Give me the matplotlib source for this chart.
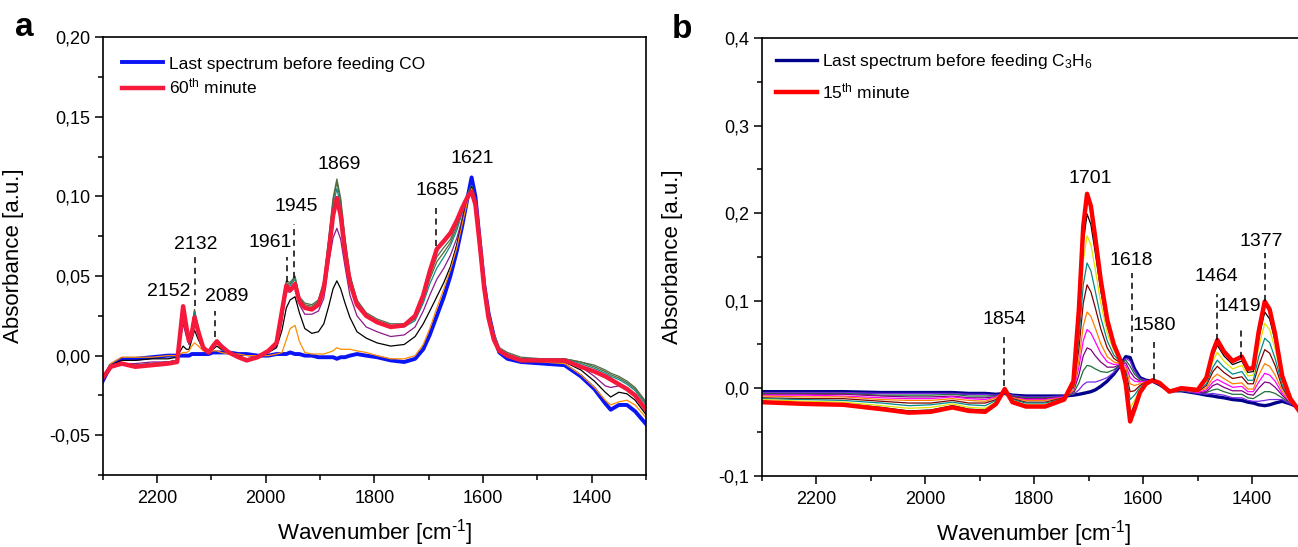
import matplotlib
matplotlib.use("Agg")
import matplotlib.pyplot as plt
from matplotlib.ticker import MultipleLocator

plt.rcParams['font.family'] = ['Liberation Sans', 'DejaVu Sans']
plt.rcParams['mathtext.fontset'] = 'custom'
plt.rcParams['mathtext.rm'] = 'Liberation Sans'
plt.rcParams['mathtext.it'] = 'Liberation Sans'
plt.rcParams['mathtext.bf'] = 'Liberation Sans:bold'

# ---------------- panel a : CO adsorption ----------------
wn_a = [2300, 2285, 2265, 2240, 2210, 2180, 2163, 2157, 2152, 2146,
        2141, 2136, 2131, 2124, 2115, 2105, 2097, 2090, 2082, 2068,
        2050, 2035, 2015, 1995, 1980, 1970, 1962, 1955, 1946, 1938,
        1928, 1915, 1903, 1893, 1884, 1876, 1869, 1862, 1854, 1845,
        1832, 1815, 1795, 1770, 1745, 1725, 1710, 1698, 1685, 1672,
        1660, 1648, 1638, 1628, 1621, 1614, 1606, 1598, 1590, 1580,
        1570, 1555, 1530, 1490, 1450, 1420, 1395, 1375, 1365, 1350,
        1335, 1320, 1300]

before_co = [-0.016, -0.006, -0.002, -0.002, -0.001, 0.000, 0.000, 0.000, 0.000, 0.000,
             0.000, 0.001, 0.001, 0.001, 0.001, 0.001, 0.002, 0.002, 0.002, 0.002,
             0.001, 0.001, 0.000, 0.000, 0.001, 0.001, 0.001, 0.002, 0.001, 0.001,
             0.000, 0.000, -0.001, -0.001, -0.001, -0.001, -0.002, -0.001, -0.001, 0.000,
             0.001, 0.000, -0.001, -0.003, -0.004, -0.002, 0.004, 0.013, 0.025, 0.037,
             0.050, 0.066, 0.082, 0.100, 0.112, 0.100, 0.072, 0.045, 0.027, 0.012,
             0.002, -0.002, -0.004, -0.005, -0.006, -0.013, -0.021, -0.030, -0.034, -0.031,
             -0.031, -0.035, -0.043]

co_orange = [-0.014, -0.005, -0.001, -0.001, -0.001, 0.000, 0.000, 0.001, 0.002, 0.002,
             0.003, 0.006, 0.008, 0.006, 0.003, 0.002, 0.003, 0.003, 0.002, 0.001,
             0.001, 0.000, 0.000, 0.000, 0.001, 0.002, 0.010, 0.017, 0.019, 0.009,
             0.002, 0.001, 0.001, 0.001, 0.002, 0.003, 0.005, 0.004, 0.004, 0.004,
             0.003, 0.002, 0.000, -0.002, -0.002, 0.000, 0.007, 0.017, 0.030, 0.042,
             0.054, 0.068, 0.083, 0.098, 0.105, 0.097, 0.072, 0.046, 0.027, 0.012,
             0.003, -0.001, -0.003, -0.004, -0.005, -0.012, -0.020, -0.028, -0.031, -0.029,
             -0.028, -0.031, -0.039]

co_black = [-0.014, -0.006, -0.003, -0.003, -0.002, -0.002, -0.001, 0.003, 0.006, 0.004,
            0.004, 0.010, 0.016, 0.010, 0.004, 0.002, 0.004, 0.006, 0.004, 0.002,
            0.000, -0.002, -0.001, 0.002, 0.005, 0.016, 0.030, 0.035, 0.037, 0.027,
            0.017, 0.014, 0.015, 0.020, 0.031, 0.042, 0.047, 0.042, 0.033, 0.024,
            0.015, 0.011, 0.008, 0.006, 0.007, 0.012, 0.020, 0.028, 0.037, 0.046,
            0.056, 0.070, 0.084, 0.099, 0.106, 0.098, 0.073, 0.046, 0.027, 0.012,
            0.003, -0.001, -0.003, -0.004, -0.004, -0.009, -0.016, -0.023, -0.026, -0.023,
            -0.024, -0.028, -0.037]

co_purple = [-0.015, -0.007, -0.005, -0.005, -0.004, -0.004, -0.003, 0.010, 0.020, 0.012,
             0.007, 0.014, 0.022, 0.013, 0.004, 0.002, 0.005, 0.008, 0.005, 0.002,
             -0.001, -0.003, -0.001, 0.002, 0.006, 0.022, 0.040, 0.040, 0.043, 0.032,
             0.026, 0.026, 0.028, 0.036, 0.058, 0.074, 0.080, 0.073, 0.056, 0.038,
             0.025, 0.018, 0.015, 0.012, 0.013, 0.018, 0.028, 0.038, 0.048, 0.055,
             0.063, 0.074, 0.086, 0.099, 0.105, 0.097, 0.072, 0.045, 0.026, 0.011,
             0.003, -0.001, -0.003, -0.003, -0.003, -0.007, -0.013, -0.019, -0.020, -0.019,
             -0.021, -0.025, -0.034]

co_teal = [-0.015, -0.007, -0.005, -0.006, -0.005, -0.004, -0.003, 0.014, 0.028, 0.017,
           0.009, 0.016, 0.027, 0.016, 0.005, 0.002, 0.006, 0.009, 0.006, 0.002,
           -0.001, -0.003, -0.001, 0.003, 0.008, 0.027, 0.045, 0.044, 0.048, 0.035,
           0.031, 0.030, 0.033, 0.044, 0.069, 0.094, 0.105, 0.094, 0.069, 0.048,
           0.033, 0.025, 0.021, 0.018, 0.018, 0.022, 0.033, 0.045, 0.055, 0.062,
           0.069, 0.079, 0.090, 0.101, 0.106, 0.098, 0.074, 0.047, 0.028, 0.013,
           0.004, 0.001, -0.002, -0.002, -0.002, -0.005, -0.008, -0.011, -0.013, -0.015,
           -0.018, -0.022, -0.031]

co_olive = [-0.015, -0.007, -0.005, -0.006, -0.005, -0.004, -0.003, 0.015, 0.030, 0.018,
            0.010, 0.017, 0.028, 0.017, 0.006, 0.003, 0.007, 0.009, 0.006, 0.002,
            -0.001, -0.003, -0.001, 0.003, 0.008, 0.028, 0.046, 0.045, 0.049, 0.036,
            0.032, 0.031, 0.034, 0.046, 0.072, 0.097, 0.109, 0.097, 0.072, 0.050,
            0.034, 0.026, 0.022, 0.019, 0.019, 0.023, 0.035, 0.048, 0.059, 0.065,
            0.071, 0.081, 0.091, 0.101, 0.106, 0.098, 0.074, 0.047, 0.028, 0.013,
            0.004, 0.001, -0.002, -0.002, -0.002, -0.004, -0.007, -0.010, -0.012, -0.014,
            -0.017, -0.021, -0.030]

co_gray = [-0.014, -0.007, -0.005, -0.006, -0.005, -0.004, -0.003, 0.015, 0.030, 0.019,
           0.010, 0.018, 0.029, 0.017, 0.006, 0.003, 0.007, 0.009, 0.006, 0.002,
           -0.001, -0.003, -0.001, 0.003, 0.008, 0.029, 0.047, 0.046, 0.050, 0.037,
           0.033, 0.032, 0.035, 0.047, 0.074, 0.099, 0.111, 0.099, 0.074, 0.051,
           0.035, 0.027, 0.023, 0.020, 0.020, 0.024, 0.037, 0.050, 0.062, 0.068,
           0.073, 0.083, 0.092, 0.102, 0.107, 0.099, 0.075, 0.048, 0.029, 0.014,
           0.005, 0.002, -0.001, -0.002, -0.002, -0.004, -0.006, -0.009, -0.011, -0.013,
           -0.016, -0.020, -0.029]

co_60min = [-0.014, -0.007, -0.005, -0.007, -0.006, -0.005, -0.004, 0.015, 0.031, 0.018,
            0.009, 0.014, 0.024, 0.015, 0.005, 0.002, 0.006, 0.009, 0.006, 0.002,
            -0.001, -0.003, -0.001, 0.003, 0.008, 0.028, 0.044, 0.041, 0.045, 0.034,
            0.030, 0.029, 0.032, 0.042, 0.065, 0.088, 0.099, 0.088, 0.065, 0.046,
            0.032, 0.025, 0.021, 0.018, 0.019, 0.025, 0.038, 0.053, 0.067, 0.072,
            0.077, 0.085, 0.093, 0.100, 0.103, 0.095, 0.070, 0.043, 0.024, 0.010,
            0.003, 0.000, -0.003, -0.003, -0.003, -0.007, -0.010, -0.013, -0.015, -0.018,
            -0.021, -0.025, -0.034]

mid_a = [co_gray, co_olive, co_teal, co_purple, co_black, co_orange]
mid_a_colors = ['#4f6b4f', '#556b2f', '#138a8a', '#8b1a8b', 'black', '#ff8c00']

# peak label, text position (wn, abs), dashed line (wn, y0, y1) or None
peaks_a = [('2152', 2178, 0.040, None),
           ('2132', 2128, 0.070, (2131, 0.031, 0.063)),
           ('2089', 2072, 0.037, (2093, 0.012, 0.028)),
           ('1961', 1992, 0.071, (1960, 0.046, 0.062)),
           ('1945', 1943, 0.094, (1947, 0.049, 0.083)),
           ('1869', 1865, 0.120, None),
           ('1685', 1685, 0.104, (1686, 0.069, 0.093)),
           ('1621', 1619, 0.124, None)]

yticks_a = [-0.05, 0.0, 0.05, 0.10, 0.15, 0.20]
ytick_labels_a = ['-0,05', '0,00', '0,05', '0,10', '0,15', '0,20']

# ---------------- panel b : C3H6 adsorption ----------------
wn_b = [2300, 2220, 2150, 2080, 2030, 1990, 1950, 1920, 1890, 1870,
        1854, 1840, 1815, 1780, 1745, 1728, 1718, 1710, 1703, 1696,
        1688, 1678, 1666, 1654, 1642, 1632, 1624, 1616, 1606, 1595,
        1583, 1570, 1552, 1530, 1500, 1484, 1472, 1464, 1452, 1436,
        1419, 1408, 1398, 1388, 1377, 1368, 1358, 1345, 1330, 1315]

before_c3h6 = [-0.004, -0.004, -0.004, -0.005, -0.005, -0.005, -0.005, -0.006, -0.006, -0.007,
               -0.006, -0.008, -0.009, -0.009, -0.009, -0.008, -0.007, -0.006, -0.005, -0.004,
               -0.002, 0.002, 0.008, 0.016, 0.026, 0.036, 0.035, 0.022, 0.012, 0.009,
               0.008, 0.004, -0.003, -0.003, -0.006, -0.008, -0.009, -0.010, -0.011, -0.013,
               -0.014, -0.016, -0.017, -0.019, -0.020, -0.019, -0.017, -0.015, -0.018, -0.022]

c3_1 = [-0.005, -0.005, -0.005, -0.006, -0.006, -0.006, -0.006, -0.007, -0.007, -0.008,
        -0.006, -0.008, -0.010, -0.010, -0.009, -0.007, -0.002, 0.004, 0.007, 0.007,
        0.007, 0.009, 0.012, 0.018, 0.026, 0.034, 0.031, 0.020, 0.011, 0.009,
        0.008, 0.004, -0.003, -0.003, -0.006, -0.007, -0.006, -0.007, -0.008, -0.011,
        -0.011, -0.014, -0.015, -0.015, -0.014, -0.013, -0.013, -0.013, -0.018, -0.022]

c3_2 = [-0.006, -0.006, -0.006, -0.008, -0.008, -0.008, -0.007, -0.009, -0.009, -0.009,
        -0.005, -0.009, -0.011, -0.011, -0.010, -0.006, 0.006, 0.020, 0.026, 0.025,
        0.022, 0.019, 0.018, 0.021, 0.027, 0.032, 0.025, 0.016, 0.010, 0.008,
        0.008, 0.004, -0.003, -0.003, -0.005, -0.005, -0.002, -0.001, -0.004, -0.007,
        -0.007, -0.011, -0.012, -0.008, -0.004, -0.004, -0.006, -0.011, -0.017, -0.022]

c3_3 = [-0.007, -0.007, -0.007, -0.009, -0.010, -0.010, -0.009, -0.011, -0.011, -0.010,
        -0.005, -0.010, -0.012, -0.012, -0.010, -0.004, 0.015, 0.037, 0.046, 0.044,
        0.037, 0.030, 0.024, 0.024, 0.027, 0.029, 0.019, 0.012, 0.008, 0.008,
        0.008, 0.004, -0.003, -0.002, -0.005, -0.004, 0.003, 0.005, 0.001, -0.003,
        -0.003, -0.007, -0.008, 0.000, 0.007, 0.006, 0.001, -0.008, -0.017, -0.023]

c3_4 = [-0.008, -0.008, -0.009, -0.011, -0.012, -0.012, -0.010, -0.012, -0.013, -0.010,
        -0.004, -0.011, -0.013, -0.013, -0.010, -0.003, 0.024, 0.054, 0.067, 0.063,
        0.053, 0.040, 0.030, 0.027, 0.028, 0.026, 0.012, 0.008, 0.007, 0.008,
        0.008, 0.005, -0.003, -0.002, -0.005, -0.002, 0.007, 0.010, 0.006, 0.001,
        0.002, -0.004, -0.004, 0.007, 0.017, 0.015, 0.008, -0.006, -0.016, -0.023]

c3_5 = [-0.009, -0.010, -0.010, -0.013, -0.014, -0.014, -0.012, -0.014, -0.015, -0.011,
        -0.004, -0.011, -0.014, -0.014, -0.011, -0.002, 0.032, 0.071, 0.087, 0.082,
        0.069, 0.051, 0.036, 0.030, 0.028, 0.023, 0.005, 0.003, 0.005, 0.007,
        0.008, 0.005, -0.003, -0.002, -0.004, 0.000, 0.012, 0.016, 0.011, 0.005,
        0.006, -0.001, -0.001, 0.015, 0.028, 0.025, 0.015, -0.003, -0.016, -0.023]

c3_6 = [-0.011, -0.012, -0.012, -0.015, -0.017, -0.017, -0.014, -0.017, -0.017, -0.013,
        -0.003, -0.012, -0.016, -0.016, -0.011, 0.001, 0.045, 0.097, 0.118, 0.110,
        0.092, 0.068, 0.046, 0.034, 0.029, 0.019, -0.004, -0.003, 0.003, 0.007,
        0.009, 0.005, -0.004, -0.001, -0.004, 0.003, 0.019, 0.025, 0.018, 0.011,
        0.013, 0.005, 0.005, 0.026, 0.044, 0.040, 0.026, 0.001, -0.015, -0.024]

c3_7 = [-0.012, -0.013, -0.014, -0.017, -0.020, -0.019, -0.016, -0.019, -0.020, -0.014,
        -0.003, -0.013, -0.017, -0.017, -0.012, 0.002, 0.056, 0.118, 0.143, 0.134,
        0.111, 0.081, 0.054, 0.038, 0.030, 0.016, -0.013, -0.008, 0.001, 0.006,
        0.009, 0.005, -0.004, -0.001, -0.003, 0.005, 0.024, 0.032, 0.024, 0.016,
        0.019, 0.009, 0.009, 0.036, 0.057, 0.052, 0.034, 0.004, -0.014, -0.024]

c3_8 = [-0.013, -0.015, -0.016, -0.020, -0.023, -0.022, -0.018, -0.022, -0.023, -0.016,
        -0.002, -0.014, -0.019, -0.019, -0.012, 0.005, 0.070, 0.145, 0.174, 0.164,
        0.136, 0.098, 0.063, 0.043, 0.031, 0.012, -0.023, -0.014, -0.001, 0.006,
        0.009, 0.006, -0.004, -0.001, -0.003, 0.008, 0.031, 0.041, 0.031, 0.022,
        0.026, 0.014, 0.015, 0.047, 0.074, 0.067, 0.045, 0.008, -0.013, -0.024]

c3_9 = [-0.015, -0.017, -0.018, -0.022, -0.026, -0.025, -0.020, -0.024, -0.025, -0.017,
        -0.002, -0.015, -0.020, -0.020, -0.013, 0.006, 0.080, 0.166, 0.199, 0.187,
        0.155, 0.112, 0.071, 0.047, 0.031, 0.008, -0.031, -0.019, -0.003, 0.005,
        0.009, 0.006, -0.004, 0.000, -0.002, 0.010, 0.037, 0.049, 0.037, 0.027,
        0.031, 0.018, 0.019, 0.057, 0.087, 0.079, 0.054, 0.011, -0.013, -0.025]

c3h6_15min = [-0.016, -0.018, -0.019, -0.024, -0.028, -0.027, -0.022, -0.026, -0.027, -0.018,
              -0.001, -0.016, -0.021, -0.021, -0.013, 0.008, 0.090, 0.185, 0.222, 0.208,
              0.172, 0.124, 0.078, 0.050, 0.032, 0.005, -0.038, -0.024, -0.005, 0.005,
              0.009, 0.006, -0.004, 0.000, -0.002, 0.012, 0.042, 0.055, 0.042, 0.031,
              0.036, 0.022, 0.023, 0.065, 0.099, 0.090, 0.062, 0.014, -0.012, -0.025]

mid_b = [c3_1, c3_2, c3_3, c3_4, c3_5, c3_6, c3_7, c3_8, c3_9]
mid_b_colors = ['#7a28e8', '#1f6f3a', '#800080', '#ff00ff', '#ff8000',
                '#800000', '#008b8b', '#e0e000', 'black']

peaks_b = [('1854', 1854, 0.079, (1855, 0.002, 0.063)),
           ('1701', 1698, 0.240, None),
           ('1618', 1622, 0.146, (1621, 0.040, 0.132)),
           ('1580', 1579, 0.072, (1580, 0.009, 0.053)),
           ('1464', 1465, 0.128, (1465, 0.055, 0.108)),
           ('1419', 1423, 0.093, (1420, 0.034, 0.070)),
           ('1377', 1383, 0.168, (1377, 0.099, 0.154))]

yticks_b = [-0.1, 0.0, 0.1, 0.2, 0.3, 0.4]
ytick_labels_b = ['-0,1', '0,0', '0,1', '0,2', '0,3', '0,4']


def style_axes(ax, yticks, ylabels, ylim, yminor):
    ax.set_xlim(2300, 1300)
    ax.set_ylim(*ylim)
    ax.set_xticks([2200, 2000, 1800, 1600, 1400])
    ax.xaxis.set_minor_locator(MultipleLocator(100))
    ax.set_yticks(yticks)
    ax.set_yticklabels(ylabels)
    ax.yaxis.set_minor_locator(MultipleLocator(yminor))
    ax.tick_params(which='both', direction='out', top=False, right=False,
                   labelsize=13, width=1.1)
    ax.tick_params(which='major', length=6)
    ax.tick_params(which='minor', length=3.5)
    ax.tick_params(axis='x', pad=5)
    ax.tick_params(axis='y', pad=3)
    for sp in ax.spines.values():
        sp.set_linewidth(1.2)
    ax.set_xlabel('Wavenumber [cm$^{\u2010\\mathregular{1}}$]', fontsize=16, labelpad=7)
    ax.set_ylabel('Absorbance [a.u.]', fontsize=16)
    ax.yaxis.set_label_coords(-0.145, 0.5)


def add_peaks(ax, peaks):
    for label, tx, ty, line in peaks:
        ax.text(tx, ty, label, fontsize=14, ha='center', va='center')
        if line is not None:
            ax.plot([line[0], line[0]], [line[1], line[2]], color='black',
                    lw=1.1, ls=(0, (4, 3)))


fig = plt.figure(figsize=(12.98, 5.47), dpi=100)
ax_a = fig.add_axes([102.7 / 1298, 72 / 547, 543.3 / 1298, 437.7 / 547])
ax_b = fig.add_axes([761.7 / 1298, 71.3 / 547, 545 / 1298, 437.7 / 547])

# panel a
ax_a.plot(wn_a, before_co, color='#0a14f5', lw=2.8, label='Last spectrum before feeding CO')
for y, c in zip(mid_a, mid_a_colors):
    ax_a.plot(wn_a, y, color=c, lw=0.9)
ax_a.plot(wn_a, co_60min, color='#f5193c', lw=3.2, label='60$^{\\mathregular{th}}$ minute')
style_axes(ax_a, yticks_a, ytick_labels_a, (-0.075, 0.20), 0.025)
add_peaks(ax_a, peaks_a)
ax_a.legend(loc='upper left', frameon=False, fontsize=12.5, handlelength=2.4,
            handletextpad=0.3, labelspacing=0.3, borderaxespad=0.7,
            bbox_to_anchor=(0.0, 1.0))

# panel b
ax_b.plot(wn_b, before_c3h6, color='#00008b', lw=2.4, label='Last spectrum before feeding C$_3$H$_6$')
for y, c in zip(mid_b, mid_b_colors):
    ax_b.plot(wn_b, y, color=c, lw=0.9)
ax_b.plot(wn_b, c3h6_15min, color='#ff0000', lw=3.2, label='15$^{\\mathregular{th}}$ minute')
style_axes(ax_b, yticks_b, ytick_labels_b, (-0.1, 0.4), 0.05)
add_peaks(ax_b, peaks_b)
ax_b.legend(loc='upper left', frameon=False, fontsize=12.5, handlelength=2.4,
            handletextpad=0.3, labelspacing=0.6, borderaxespad=0.4,
            bbox_to_anchor=(0.0, 1.0))

fig.text(24 / 1298, 1 - 28 / 547, 'a', fontsize=24, fontweight='bold', ha='center', va='center')
fig.text(682 / 1298, 1 - 30 / 547, 'b', fontsize=24, fontweight='bold', ha='center', va='center')

fig.savefig('out.png', dpi=100)
